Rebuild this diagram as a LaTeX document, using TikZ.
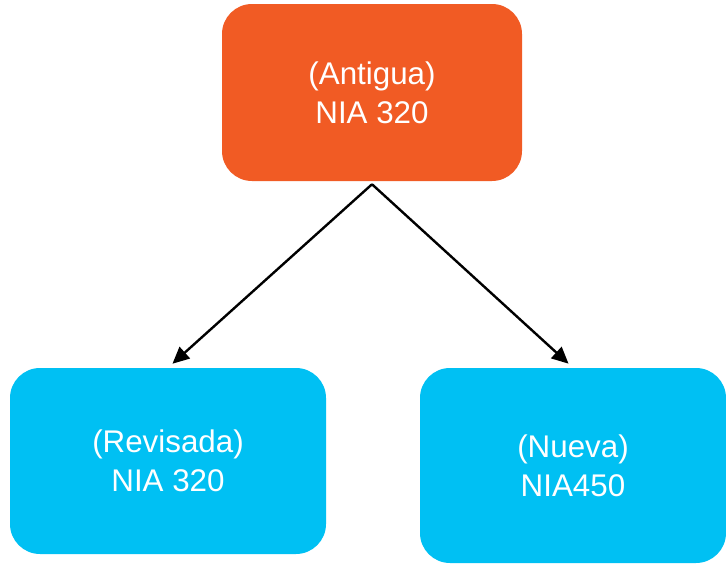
\documentclass[tikz,border=0pt]{standalone}
\usepackage{fontspec}
\setmainfont{Liberation Sans}
\usetikzlibrary{arrows.meta}

% two centred lines; the box reaches from the cap height of the first line
% down to the baseline of the second, so the node centres on that span
\newcommand{\boxtext}[2]{%
  \raisebox{0pt}[46pt][0pt]{%
    \fontsize{23.5}{29.25}\selectfont
    \begin{tabular}[b]{@{}c@{}}#1\\#2\end{tabular}}}

\definecolor{oldorange}{RGB}{241,91,36}
\definecolor{newcyan}{RGB}{0,192,243}

\tikzset{
  stdbox/.style={rectangle, rounded corners=22.5pt, inner sep=0pt,
    text=white},
  oldbox/.style={stdbox, fill=oldorange},
  newbox/.style={stdbox, fill=newcyan},
  link/.style={draw=black, line width=1.8pt,
    -{Triangle[length=12.5pt,width=11.5pt]}, shorten >=4.5pt}
}

\begin{document}
\begin{tikzpicture}[x=0.75pt,y=-0.75pt]
  \useasboundingbox (0,0) rectangle (726,564);
  \clip (0,0) rectangle (726,564);

  \node[oldbox, minimum width=225pt, minimum height=132.75pt]
    (antigua) at (372,92.5) {\boxtext{(Antigua)}{NIA 320}};
  \node[newbox, minimum width=237pt, minimum height=139.5pt]
    (revisada) at (168,461) {\boxtext{(Revisada)}{NIA 320}};
  \node[newbox, minimum width=229.5pt, minimum height=146.25pt]
    (nueva) at (573,465.5) {\boxtext{(Nueva)}{NIA450}};

  % both connectors leave from one point just under the top box
  \coordinate (fork) at ([yshift=-2.25pt]antigua.south);
  \draw[link] (fork) -- (revisada.north);
  \draw[link] (fork) -- (nueva.north);
\end{tikzpicture}
\end{document}
